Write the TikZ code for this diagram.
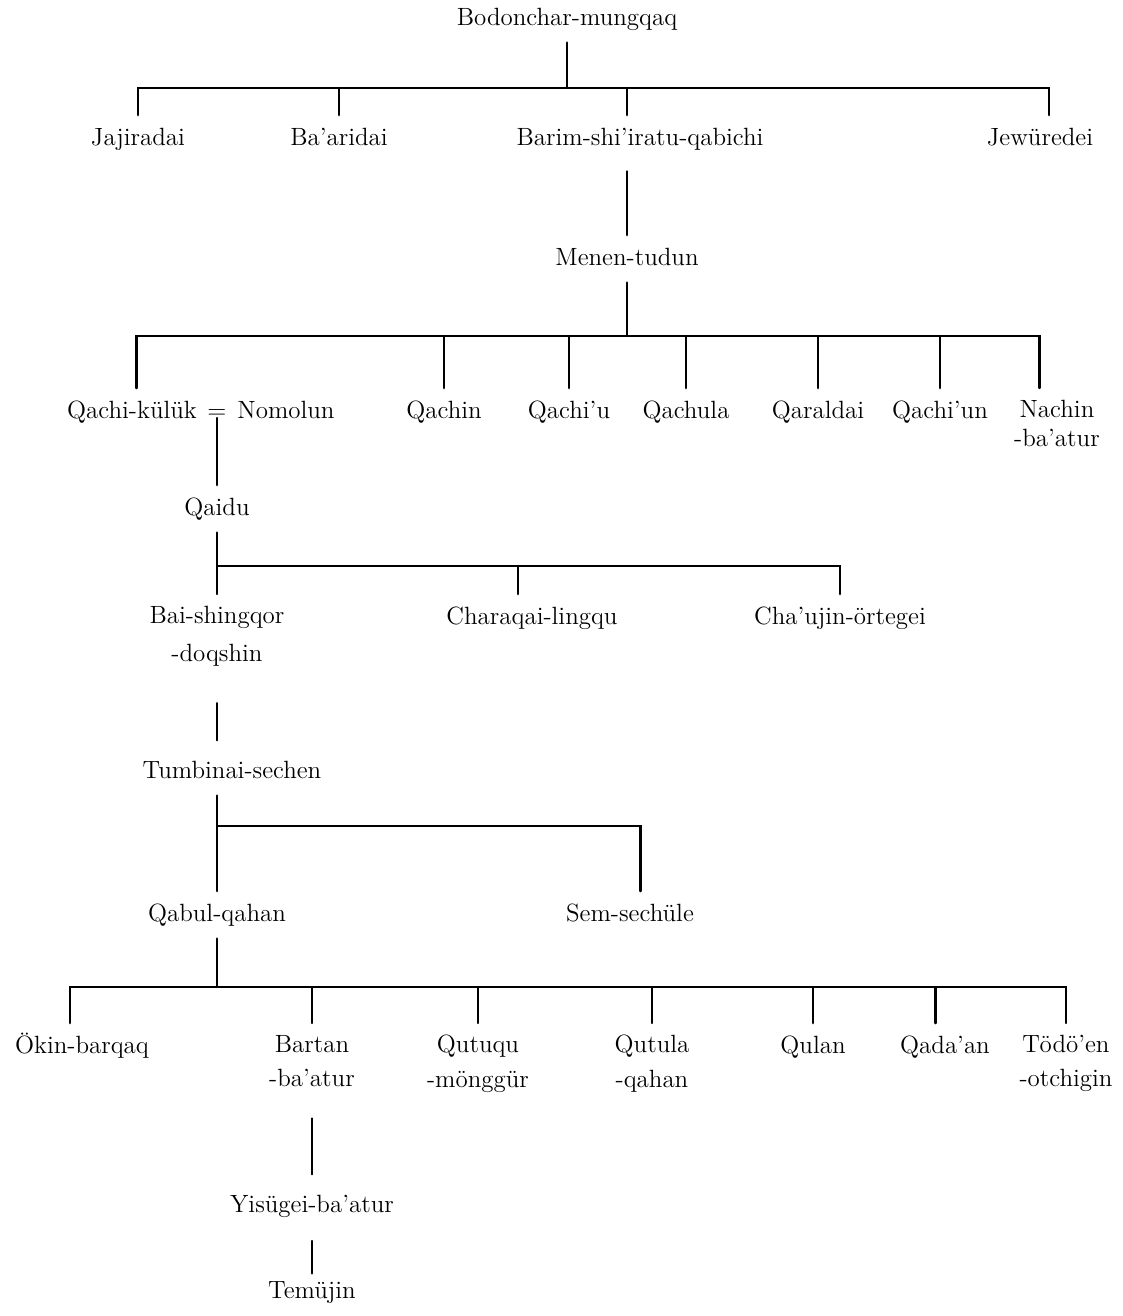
\documentclass[tikz,border=0pt]{standalone}
\usepackage{fontspec}
\newcommand{\kinfont}{\fontsize{14.2}{16.5}\selectfont}

\begin{document}
\begin{tikzpicture}[x=0.02cm, y=-0.02cm, line cap=round,
    person/.style={font=\kinfont, inner sep=0pt, outer sep=7pt, text height=10pt, text depth=3pt, anchor=base},
    person2/.style={font=\kinfont, inner sep=0pt, outer sep=7pt, align=center, anchor=north},
    wed/.style={font=\kinfont, inner sep=0pt, outer sep=0pt, anchor=base},
    kin/.style={line width=1.35pt}]
  \useasboundingbox (0,0) rectangle (1123,1316);

  \node[person] (bodon) at (567,25) {Bodonchar-mungqaq};
  \node[person] (jaj) at (138,145) {Jajiradai};
  \node[person] (baa) at (339,145) {Ba'aridai};
  \node[person] (barim) at (640,145) {Barim-shi'iratu-qabichi};
  \node[person] (jew) at (1040,145) {Jewüredei};
  \node[person] (menen) at (627,265) {Menen-tudun};
  \coordinate (b1) at (567,88);
  \draw[kin] (bodon.south) -- (b1);
  \draw[kin] (jaj.north) |- (b1) -| ([xshift=5pt]jew.north);
  \draw[kin] (baa.north) -- (baa.north |- b1);
  \draw[kin] (menen.north |- barim.north) -- (menen.north |- b1);
  \draw[kin, shorten <=5pt] (menen.north |- barim.south) -- (menen.north);

  \node[person] (qk) at (132,418) {Qachi-külük};
  \node[wed] (eq) at (217,418) {=};
  \node[person] (nomo) at (286,418) {Nomolun};
  \node[person] (qachin) at (444,418) {Qachin};
  \node[person] (qachiu) at (569,418) {Qachi'u};
  \node[person] (qachula) at (686,418) {Qachula};
  \node[person] (qaraldai) at (818,418) {Qaraldai};
  \node[person] (qachiun) at (940,418) {Qachi'un};
  \node[person2] (nachin) at (1057,388) {Nachin\\-ba'atur};
  \coordinate (b2) at (627,336);
  \draw[kin] (menen.south) -- (b2);
  \draw[kin] ([xshift=2.5pt]qk.north) |- (b2) -| ([xshift=-10pt]nachin.north);
  \foreach \n in {qachin,qachiu,qachula,qaraldai,qachiun}
    \draw[kin] (\n.north) -- (\n.north |- b2);

  \node[person] (qaidu) at (217,515) {Qaidu};
  \draw[kin] (eq.south) -- (qaidu.north);

  \node[person2] (bai) at (217,594) {Bai-shingqor\\[5pt]-doqshin};
  \node[person] (chara) at (532,624) {Charaqai-lingqu};
  \node[person] (chau) at (840,624) {Cha'ujin-örtegei};
  \coordinate (b3) at (217,566);
  \draw[kin] (qaidu.south) -- (bai.north);
  \draw[kin] (b3) -| (chau.north);
  \draw[kin] ([xshift=-8pt]chara.north) -- ([xshift=-8pt]chara.north |- b3);

  \node[person] (tumb) at (232,778) {Tumbinai-sechen};
  \draw[kin, shorten <=14pt, shorten >=4.5pt] (bai.south) -- (bai.south |- tumb.north);

  \node[person] (qabul) at (217,921) {Qabul-qahan};
  \node[person] (sem) at (630,921) {Sem-sechüle};
  \coordinate (b4) at (217,826);
  \draw[kin] (qabul.north |- tumb.south) -- (qabul.north);
  \draw[kin] (b4) -| ([xshift=6pt]sem.north);

  \node[person] (okin) at (82,1053) {Ökin-barqaq};
  \node[person2] (bartan) at (312,1023) {Bartan\\[3pt]-ba'atur};
  \node[person2] (qutuqu) at (478,1023) {Qutuqu\\[3pt]-mönggür};
  \node[person2] (qutula) at (652,1023) {Qutula\\[3pt]-qahan};
  \node[person] (qulan) at (813,1053) {Qulan};
  \node[person] (qadaan) at (945,1053) {Qada'an};
  \node[person2] (todoen) at (1066,1023) {Tödö'en\\[3pt]-otchigin};
  \coordinate (b5) at (217,987);
  \draw[kin] (qabul.south) -- (b5);
  \draw[kin] ([xshift=-7pt]okin.north) |- (b5) -| (todoen.north);
  \foreach \n in {bartan,qutuqu,qutula,qulan}
    \draw[kin] (\n.north) -- (\n.north |- b5);
  \draw[kin] ([xshift=-5.5pt]qadaan.north) -- ([xshift=-5.5pt]qadaan.north |- b5);

  \node[person] (yis) at (312,1212) {Yisügei-ba'atur};
  \node[person] (temu) at (312,1298) {Temüjin};
  \draw[kin, shorten <=11pt, shorten >=4.5pt] (bartan.south) -- (yis.north);
  \draw[kin, shorten <=6.5pt] (yis.south) -- ([yshift=-3pt]temu.north);
\end{tikzpicture}
\end{document}
